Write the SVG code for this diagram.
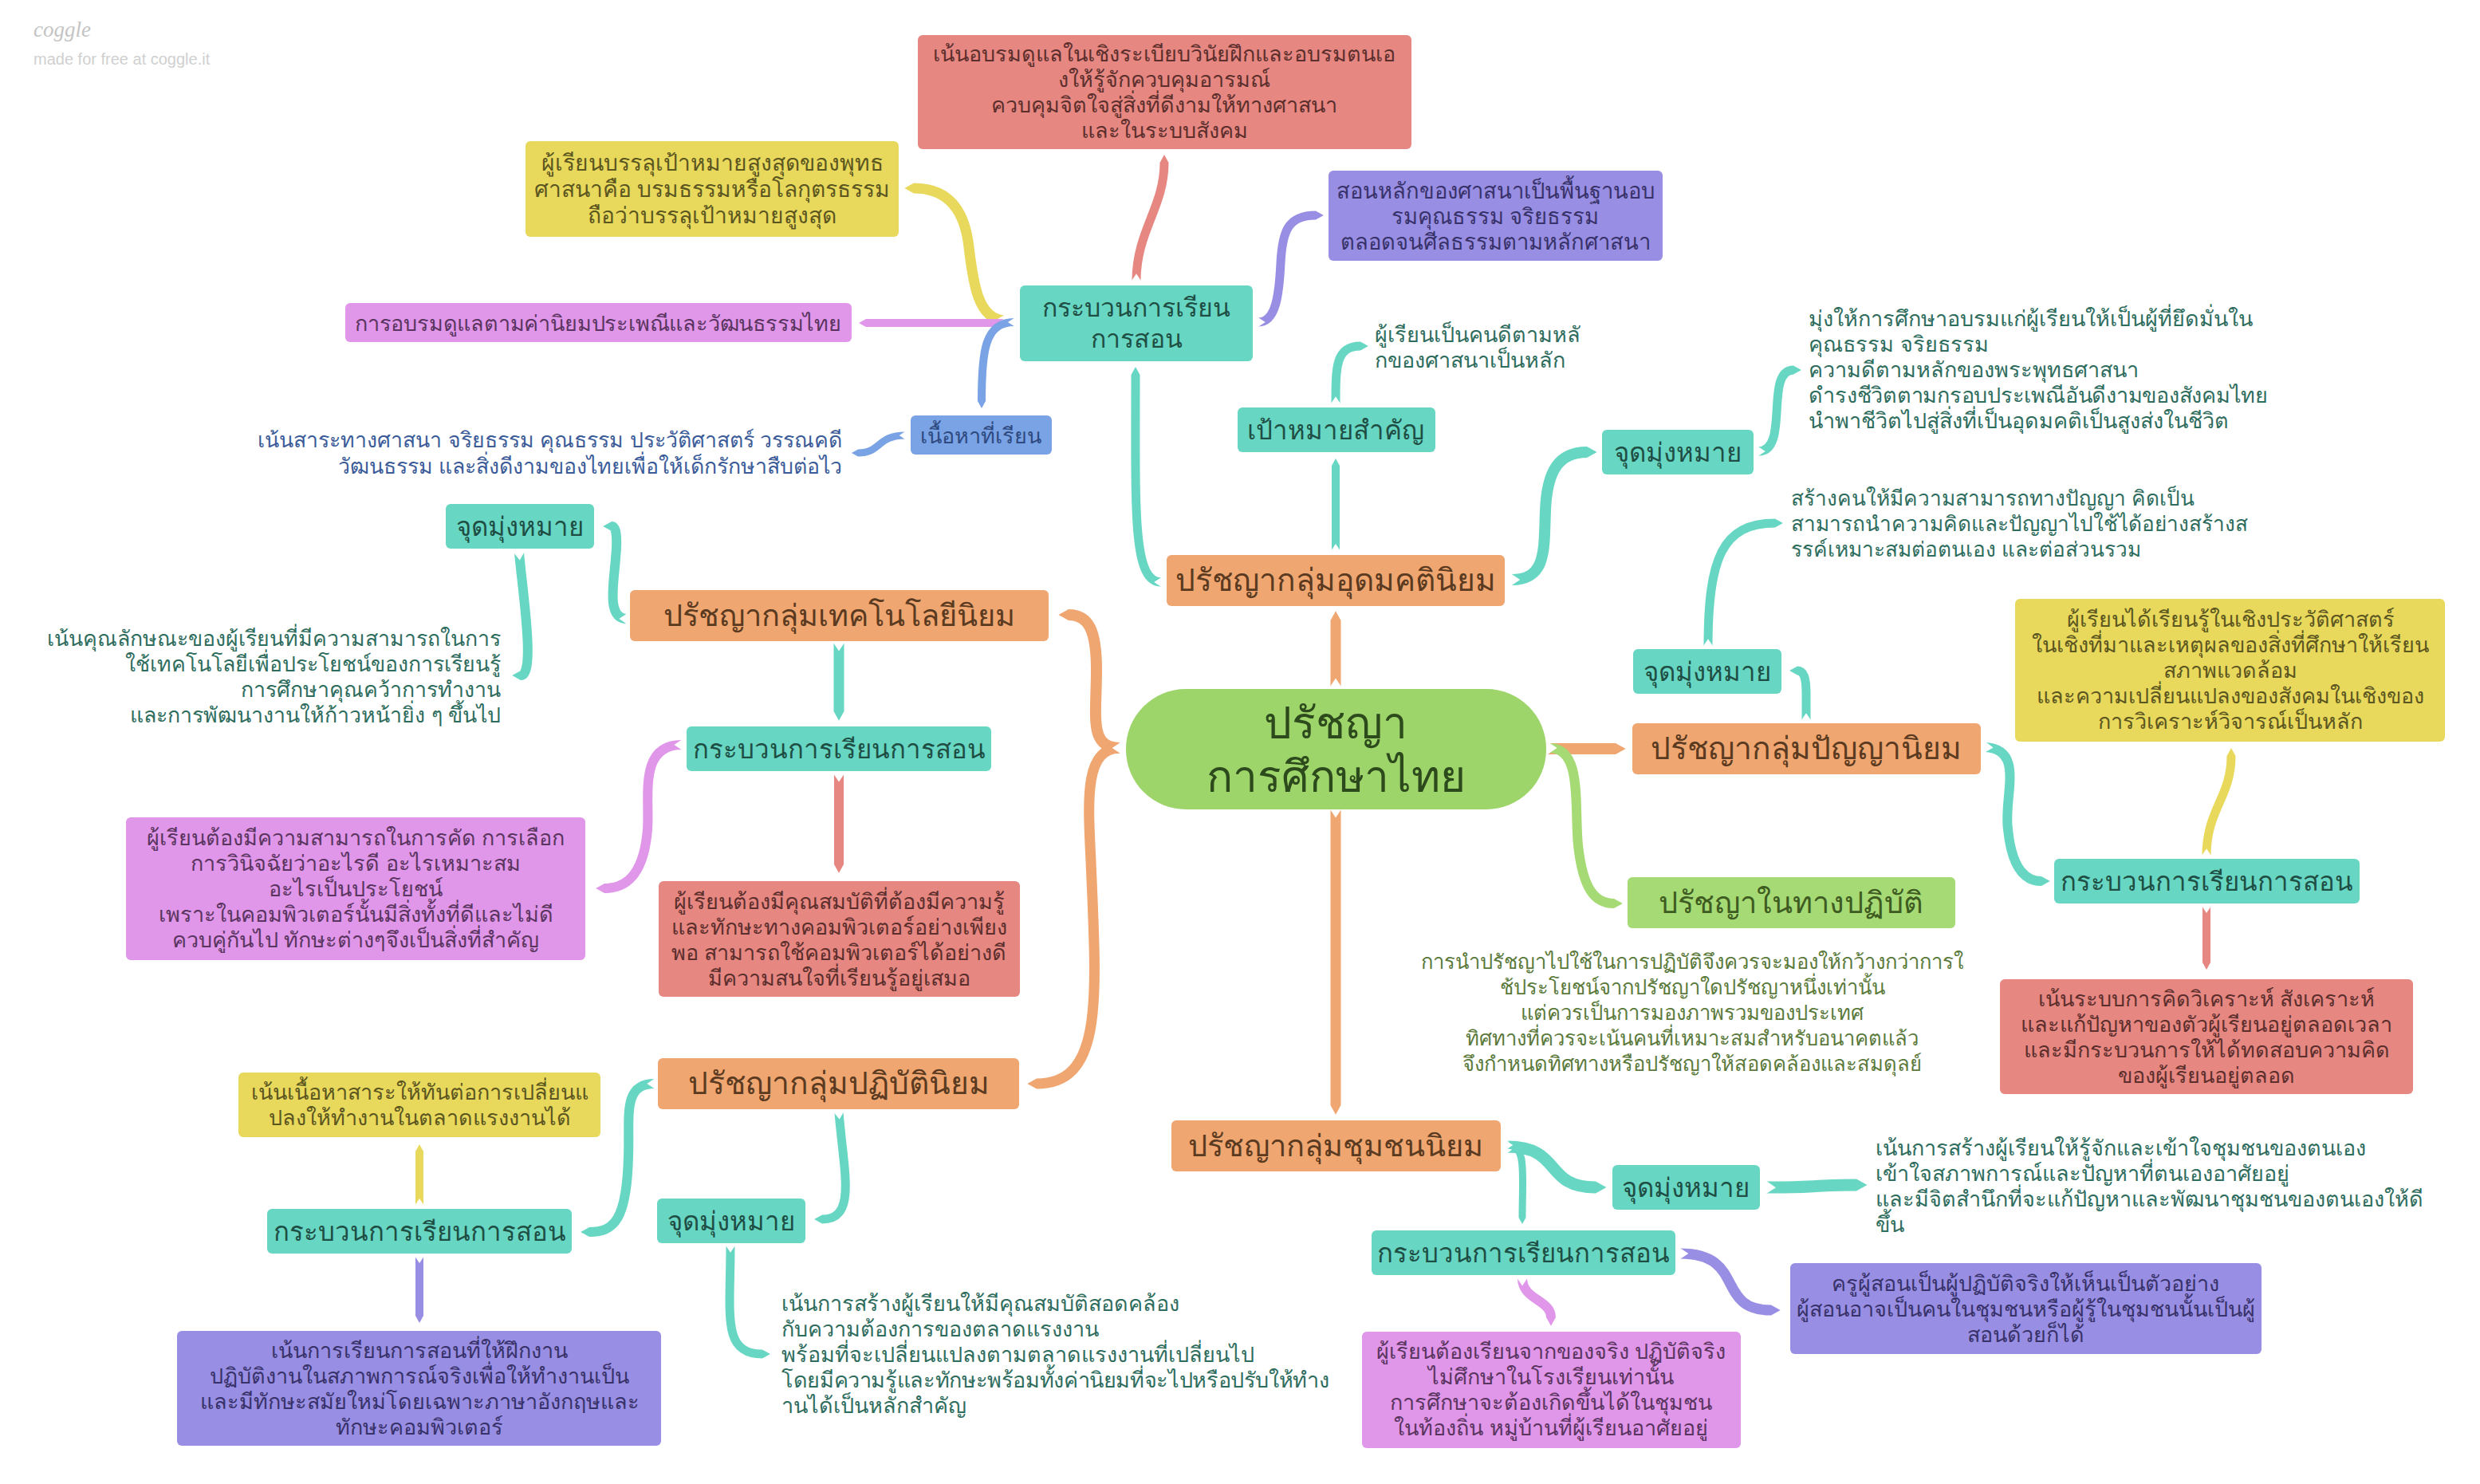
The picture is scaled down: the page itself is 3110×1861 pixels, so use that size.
<svg xmlns="http://www.w3.org/2000/svg" width="3110" height="1861" viewBox="0 0 3110 1861">
<style>
text{font-family:"Liberation Sans","Noto Sans",sans-serif;text-anchor:middle}
.l{font-size:27px}
.m{font-size:33px}
.j{font-size:33px}
.b{font-size:39px}
.r{font-size:55px;fill:#2d4a1c}
.s26 text{font-size:25.6px}.s265 text{font-size:26.2px}.s267 text{font-size:26.7px}.s285 text{font-size:28.2px}.s274 text{font-size:27.4px}.s38 text{font-size:38px}.s33 text{font-size:32px}
.st{text-anchor:start}
.en{text-anchor:end}
.og{fill:#5a3a20}.yl{fill:#5c5620}.pk{fill:#5a3560}.rd{fill:#5c2f2d}.pu{fill:#38326a}.bu{fill:#2e4a80}.gn{fill:#3e5c22}
.tt{fill:#2f6d5e}.tb{fill:#3c5c99}.tg{fill:#5b7a3c}
.nt{fill:#1f4f44}
rect.T{fill:#67d7c4}.O,rect.O{fill:#efa670}.Y{fill:#e8d95d}.P{fill:#e096e9}.R{fill:#e68782}.V{fill:#988ee3}.B{fill:#7aa3e5}.G{fill:#a6da74}
#connectors path{fill:none;stroke-linecap:butt;marker-start:url(#notch)}
.ct{stroke:#67d7c4;marker-end:url(#tT)}.co{stroke:#efa670;marker-end:url(#tO)}.cy{stroke:#e8d95d;marker-end:url(#tY)}.cp{stroke:#e096e9;marker-end:url(#tP)}.cr{stroke:#e68782;marker-end:url(#tR)}.cv{stroke:#988ee3;marker-end:url(#tV)}.cb{stroke:#7aa3e5;marker-end:url(#tB)}.cg{stroke:#a6da74;marker-end:url(#tG)}
</style>
<defs>
<marker id="notch" viewBox="0 0 10 10" markerWidth="1" markerHeight="1" refX="0" refY="5" orient="auto" overflow="visible"><polygon points="-1,-1 8,5 -1,11" fill="#fff"/></marker>
<marker id="tT" viewBox="0 0 10 10" markerWidth="1" markerHeight="1" refX="0" refY="5" orient="auto" overflow="visible"><polygon points="0,0 9,5 0,10" fill="#67d7c4"/></marker>
<marker id="tO" viewBox="0 0 10 10" markerWidth="1" markerHeight="1" refX="0" refY="5" orient="auto" overflow="visible"><polygon points="0,0 9,5 0,10" fill="#efa670"/></marker>
<marker id="tY" viewBox="0 0 10 10" markerWidth="1" markerHeight="1" refX="0" refY="5" orient="auto" overflow="visible"><polygon points="0,0 9,5 0,10" fill="#e8d95d"/></marker>
<marker id="tP" viewBox="0 0 10 10" markerWidth="1" markerHeight="1" refX="0" refY="5" orient="auto" overflow="visible"><polygon points="0,0 9,5 0,10" fill="#e096e9"/></marker>
<marker id="tR" viewBox="0 0 10 10" markerWidth="1" markerHeight="1" refX="0" refY="5" orient="auto" overflow="visible"><polygon points="0,0 9,5 0,10" fill="#e68782"/></marker>
<marker id="tV" viewBox="0 0 10 10" markerWidth="1" markerHeight="1" refX="0" refY="5" orient="auto" overflow="visible"><polygon points="0,0 9,5 0,10" fill="#988ee3"/></marker>
<marker id="tB" viewBox="0 0 10 10" markerWidth="1" markerHeight="1" refX="0" refY="5" orient="auto" overflow="visible"><polygon points="0,0 9,5 0,10" fill="#7aa3e5"/></marker>
<marker id="tG" viewBox="0 0 10 10" markerWidth="1" markerHeight="1" refX="0" refY="5" orient="auto" overflow="visible"><polygon points="0,0 9,5 0,10" fill="#a6da74"/></marker>
</defs>
<rect width="3110" height="1861" fill="#fff"/>
<g id="connectors">
<path class="cr" stroke-width="11" d="M1425 352C1425 290 1460 260 1460 204"/>
<path class="cy" stroke-width="13" d="M1259 402C1225 400 1220 350 1215 310C1210 265 1190 236 1146 236"/>
<path class="cp" stroke-width="10" d="M1259 405L1086 405"/>
<path class="cb" stroke-width="10" d="M1272 404C1235 404 1231 440 1231 503"/>
<path class="cv" stroke-width="11" d="M1578 404C1600 404 1604 370 1606 330C1608 290 1615 270 1650 270"/>
<path class="cb" stroke-width="9" d="M1135 546C1100 546 1105 568 1076 568"/>
<path class="ct" stroke-width="11" d="M1456 730C1420 730 1424 640 1424 470"/>
<path class="ct" stroke-width="10" d="M1675 690L1675 584"/>
<path class="ct" stroke-width="11" d="M1675 506C1675 460 1675 434 1706 434"/>
<path class="ct" stroke-width="14" d="M1895 727C1940 727 1936 690 1938 640C1940 590 1955 567 1990 567"/>
<path class="ct" stroke-width="11" d="M2205 566C2245 566 2212 464 2249 464"/>
<path class="ct" stroke-width="11" d="M2265 903L2265 870C2265 850 2262 841 2254 841"/>
<path class="ct" stroke-width="11" d="M2142 810C2142 700 2160 656 2226 656"/>
<path class="ct" stroke-width="12" d="M2490 937C2540 940 2512 1000 2518 1040C2522 1080 2535 1105 2560 1105"/>
<path class="cy" stroke-width="11" d="M2767 1073C2767 1015 2798 1000 2798 948"/>
<path class="cr" stroke-width="10" d="M2767 1137L2767 1207"/>
<path class="co" stroke-width="13" d="M1675 861L1675 778"/>
<path class="co" stroke-width="14" d="M1940 939L2026 939"/>
<path class="cg" stroke-width="12" d="M1943 938C1985 938 1974 1010 1979 1060C1985 1115 2000 1133 2024 1133"/>
<path class="co" stroke-width="13" d="M1675 1015L1675 1386"/>
<path class="co" stroke-width="14" d="M1405 938C1365 938 1375 900 1375 840C1375 790 1365 771 1340 771"/>
<path class="co" stroke-width="13" d="M1405 938C1360 938 1364 1000 1368 1080C1375 1250 1385 1359 1300 1359"/>
<path class="ct" stroke-width="15" d="M1890 1438C1960 1438 1935 1489 2001 1489"/>
<path class="ct" stroke-width="9" d="M1890 1436C1915 1436 1909 1470 1909 1527"/>
<path class="ct" stroke-width="15" d="M2215 1489C2260 1490 2280 1486 2328 1486"/>
<path class="cv" stroke-width="13" d="M2107 1572C2190 1572 2150 1643 2221 1643"/>
<path class="cp" stroke-width="12" d="M1909 1603C1909 1630 1945 1630 1945 1652"/>
<path class="ct" stroke-width="13" d="M1052 806L1052 892"/>
<path class="cr" stroke-width="12" d="M1052 971L1052 1084"/>
<path class="cp" stroke-width="12" d="M855 934C800 934 815 1000 812 1040C808 1090 790 1114 758 1114"/>
<path class="ct" stroke-width="12" d="M786 776C760 776 770 730 772 700C775 670 772 660 767 660"/>
<path class="ct" stroke-width="12" d="M651 693C655 740 672 847 653 847"/>
<path class="ct" stroke-width="12" d="M821 1359C780 1359 790 1400 788 1450C786 1530 770 1545 739 1545"/>
<path class="ct" stroke-width="11" d="M1052 1395C1058 1470 1075 1529 1031 1529"/>
<path class="cy" stroke-width="10" d="M526 1511L526 1444"/>
<path class="cv" stroke-width="10" d="M526 1576L526 1650"/>
<path class="ct" stroke-width="11" d="M916 1562C916 1650 905 1698 956 1698"/>
</g>
<g id="logo"><text class="st" x="42" y="46" style="font-family:'Liberation Serif',serif;font-style:italic;font-size:27px" fill="#c4c4c4">coggle</text><text class="st" x="42" y="81" style="font-size:20px" fill="#d0d0d0">made for free at coggle.it</text></g>
<g id="root"><rect x="1412" y="864" width="527" height="151" rx="75" fill="#9ed56b"/><text class="r" x="1675" y="926">ปรัชญา</text><text class="r" x="1675" y="993">การศึกษาไทย</text></g>
<g id="n1"><rect class="O" x="1463" y="696" width="424" height="64" rx="6"/><text class="b og" x="1675" y="741">ปรัชญากลุ่มอุดมคตินิยม</text></g>
<g id="n2" class="s33"><rect class="T" x="1279" y="358" width="292" height="95" rx="6"/><text class="b nt" x="1425" y="397">กระบวนการเรียน</text><text class="b nt" x="1425" y="436">การสอน</text></g>
<g id="n3"><rect class="R" x="1151" y="44" width="619" height="143" rx="6"/><text class="l rd" x="1460" y="77">เน้นอบรมดูแลในเชิงระเบียบวินัยฝึกและอบรมตนเอ</text><text class="l rd" x="1460" y="109">งให้รู้จักควบคุมอารมณ์</text><text class="l rd" x="1460" y="141">ควบคุมจิตใจสู่สิ่งที่ดีงามให้ทางศาสนา</text><text class="l rd" x="1460" y="173">และในระบบสังคม</text></g>
<g id="n4" class="s285"><rect class="Y" x="659" y="177" width="468" height="120" rx="6"/><text class="l yl" x="893" y="214">ผู้เรียนบรรลุเป้าหมายสูงสุดของพุทธ</text><text class="l yl" x="893" y="247">ศาสนาคือ บรมธรรมหรือโลกุตรธรรม</text><text class="l yl" x="893" y="280">ถือว่าบรรลุเป้าหมายสูงสุด</text></g>
<g id="n5" class="s274"><rect class="V" x="1666" y="214" width="419" height="113" rx="6"/><text class="l pu" x="1875" y="249">สอนหลักของศาสนาเป็นพื้นฐานอบ</text><text class="l pu" x="1875" y="281">รมคุณธรรม จริยธรรม</text><text class="l pu" x="1875" y="313">ตลอดจนศีลธรรมตามหลักศาสนา</text></g>
<g id="n6"><rect class="P" x="433" y="380" width="635" height="49" rx="6"/><text class="l pk" x="750" y="415" textLength="610">การอบรมดูแลตามค่านิยมประเพณีและวัฒนธรรมไทย</text></g>
<g id="n7"><rect class="B" x="1142" y="521" width="177" height="49" rx="6"/><text class="l bu" x="1230" y="556">เนื้อหาที่เรียน</text></g>
<g id="n8" class="s267"><text class="l tb en" x="1056" y="561">เน้นสาระทางศาสนา จริยธรรม คุณธรรม ประวัติศาสตร์ วรรณคดี</text><text class="l tb en" x="1056" y="594">วัฒนธรรม และสิ่งดีงามของไทยเพื่อให้เด็กรักษาสืบต่อไว</text></g>
<g id="n9"><rect class="T" x="1552" y="511" width="248" height="56" rx="6"/><text class="m nt" x="1675" y="551">เป้าหมายสำคัญ</text></g>
<g id="n10"><text class="l tt st" x="1724" y="429">ผู้เรียนเป็นคนดีตามหลั</text><text class="l tt st" x="1724" y="461">กของศาสนาเป็นหลัก</text></g>
<g id="n11"><rect class="T" x="2009" y="539" width="190" height="56" rx="6"/><text class="j nt" x="2104" y="579">จุดมุ่งหมาย</text></g>
<g id="n12"><text class="l tt st" x="2268" y="409">มุ่งให้การศึกษาอบรมแก่ผู้เรียนให้เป็นผู้ที่ยึดมั่นใน</text><text class="l tt st" x="2268" y="441">คุณธรรม จริยธรรม</text><text class="l tt st" x="2268" y="473">ความดีตามหลักของพระพุทธศาสนา</text><text class="l tt st" x="2268" y="505" textLength="576">ดำรงชีวิตตามกรอบประเพณีอันดีงามของสังคมไทย</text><text class="l tt st" x="2268" y="537">นำพาชีวิตไปสู่สิ่งที่เป็นอุดมคติเป็นสูงส่งในชีวิต</text></g>
<g id="n13"><rect class="O" x="2047" y="907" width="437" height="64" rx="6"/><text class="b og" x="2265" y="952">ปรัชญากลุ่มปัญญานิยม</text></g>
<g id="n14"><rect class="T" x="2048" y="814" width="186" height="56" rx="6"/><text class="j nt" x="2141" y="854">จุดมุ่งหมาย</text></g>
<g id="n15" class="s265"><text class="l tt st" x="2246" y="634">สร้างคนให้มีความสามารถทางปัญญา คิดเป็น</text><text class="l tt st" x="2246" y="666">สามารถนำความคิดและปัญญาไปใช้ได้อย่างสร้างส</text><text class="l tt st" x="2246" y="698">รรค์เหมาะสมต่อตนเอง และต่อส่วนรวม</text></g>
<g id="n16"><rect class="T" x="2576" y="1077" width="383" height="56" rx="6"/><text class="m nt" x="2767" y="1117">กระบวนการเรียนการสอน</text></g>
<g id="n17"><rect class="Y" x="2527" y="751" width="539" height="179" rx="6"/><text class="l yl" x="2797" y="786">ผู้เรียนได้เรียนรู้ในเชิงประวัติศาสตร์</text><text class="l yl" x="2797" y="818">ในเชิงที่มาและเหตุผลของสิ่งที่ศึกษาให้เรียน</text><text class="l yl" x="2797" y="850">สภาพแวดล้อม</text><text class="l yl" x="2797" y="882">และความเปลี่ยนแปลงของสังคมในเชิงของ</text><text class="l yl" x="2797" y="914">การวิเคราะห์วิจารณ์เป็นหลัก</text></g>
<g id="n18"><rect class="R" x="2508" y="1228" width="518" height="144" rx="6"/><text class="l rd" x="2767" y="1262">เน้นระบบการคิดวิเคราะห์ สังเคราะห์</text><text class="l rd" x="2767" y="1294">และแก้ปัญหาของตัวผู้เรียนอยู่ตลอดเวลา</text><text class="l rd" x="2767" y="1326">และมีกระบวนการให้ได้ทดสอบความคิด</text><text class="l rd" x="2767" y="1358">ของผู้เรียนอยู่ตลอด</text></g>
<g id="n19" class="s38"><rect class="G" x="2041" y="1100" width="411" height="64" rx="6"/><text class="b gn" x="2246" y="1145">ปรัชญาในทางปฏิบัติ</text></g>
<g id="n20" class="s26"><text class="l tg" x="2122" y="1215">การนำปรัชญาไปใช้ในการปฏิบัติจึงควรจะมองให้กว้างกว่าการใ</text><text class="l tg" x="2122" y="1247">ช้ประโยชน์จากปรัชญาใดปรัชญาหนึ่งเท่านั้น</text><text class="l tg" x="2122" y="1279">แต่ควรเป็นการมองภาพรวมของประเทศ</text><text class="l tg" x="2122" y="1311">ทิศทางที่ควรจะเน้นคนที่เหมาะสมสำหรับอนาคตแล้ว</text><text class="l tg" x="2122" y="1343">จึงกำหนดทิศทางหรือปรัชญาให้สอดคล้องและสมดุลย์</text></g>
<g id="n21" class="s38"><rect class="O" x="790" y="740" width="525" height="64" rx="6"/><text class="b og" x="1052" y="785">ปรัชญากลุ่มเทคโนโลยีนิยม</text></g>
<g id="n22"><rect class="T" x="559" y="632" width="186" height="56" rx="6"/><text class="j nt" x="652" y="672">จุดมุ่งหมาย</text></g>
<g id="n23" class="s267"><text class="l tt en" x="628" y="810">เน้นคุณลักษณะของผู้เรียนที่มีความสามารถในการ</text><text class="l tt en" x="628" y="842">ใช้เทคโนโลยีเพื่อประโยชน์ของการเรียนรู้</text><text class="l tt en" x="628" y="874">การศึกษาคุณคว้าการทำงาน</text><text class="l tt en" x="628" y="906">และการพัฒนางานให้ก้าวหน้ายิ่ง ๆ ขึ้นไป</text></g>
<g id="n24"><rect class="T" x="861" y="911" width="382" height="56" rx="6"/><text class="m nt" x="1052" y="951">กระบวนการเรียนการสอน</text></g>
<g id="n25"><rect class="P" x="158" y="1025" width="576" height="179" rx="6"/><text class="l pk" x="446" y="1060">ผู้เรียนต้องมีความสามารถในการคัด การเลือก</text><text class="l pk" x="446" y="1092">การวินิจฉัยว่าอะไรดี อะไรเหมาะสม</text><text class="l pk" x="446" y="1124">อะไรเป็นประโยชน์</text><text class="l pk" x="446" y="1156">เพราะในคอมพิวเตอร์นั้นมีสิ่งทั้งที่ดีและไม่ดี</text><text class="l pk" x="446" y="1188">ควบคู่กันไป ทักษะต่างๆจึงเป็นสิ่งที่สำคัญ</text></g>
<g id="n26"><rect class="R" x="826" y="1105" width="453" height="145" rx="6"/><text class="l rd" x="1052" y="1140">ผู้เรียนต้องมีคุณสมบัติที่ต้องมีความรู้</text><text class="l rd" x="1052" y="1172">และทักษะทางคอมพิวเตอร์อย่างเพียง</text><text class="l rd" x="1052" y="1204">พอ สามารถใช้คอมพิวเตอร์ได้อย่างดี</text><text class="l rd" x="1052" y="1236">มีความสนใจที่เรียนรู้อยู่เสมอ</text></g>
<g id="n27"><rect class="O" x="825" y="1327" width="453" height="64" rx="6"/><text class="b og" x="1052" y="1372">ปรัชญากลุ่มปฏิบัตินิยม</text></g>
<g id="n28"><rect class="T" x="335" y="1516" width="382" height="56" rx="6"/><text class="m nt" x="526" y="1556">กระบวนการเรียนการสอน</text></g>
<g id="n29"><rect class="Y" x="299" y="1345" width="454" height="81" rx="6"/><text class="l yl" x="526" y="1379">เน้นเนื้อหาสาระให้ทันต่อการเปลี่ยนแ</text><text class="l yl" x="526" y="1411">ปลงให้ทำงานในตลาดแรงงานได้</text></g>
<g id="n30"><rect class="V" x="222" y="1669" width="607" height="144" rx="6"/><text class="l pu" x="526" y="1703">เน้นการเรียนการสอนที่ให้ฝึกงาน</text><text class="l pu" x="526" y="1735">ปฏิบัติงานในสภาพการณ์จริงเพื่อให้ทำงานเป็น</text><text class="l pu" x="526" y="1767">และมีทักษะสมัยใหม่โดยเฉพาะภาษาอังกฤษและ</text><text class="l pu" x="526" y="1799">ทักษะคอมพิวเตอร์</text></g>
<g id="n31"><rect class="T" x="824" y="1503" width="186" height="56" rx="6"/><text class="j nt" x="917" y="1543">จุดมุ่งหมาย</text></g>
<g id="n32"><text class="l tt st" x="980" y="1644">เน้นการสร้างผู้เรียนให้มีคุณสมบัติสอดคล้อง</text><text class="l tt st" x="980" y="1676">กับความต้องการของตลาดแรงงาน</text><text class="l tt st" x="980" y="1708">พร้อมที่จะเปลี่ยนแปลงตามตลาดแรงงานที่เปลี่ยนไป</text><text class="l tt st" x="980" y="1740" textLength="687">โดยมีความรู้และทักษะพร้อมทั้งค่านิยมที่จะไปหรือปรับให้ทำง</text><text class="l tt st" x="980" y="1772">านได้เป็นหลักสำคัญ</text></g>
<g id="n33" class="s38"><rect class="O" x="1469" y="1405" width="413" height="64" rx="6"/><text class="b og" x="1675" y="1450">ปรัชญากลุ่มชุมชนนิยม</text></g>
<g id="n34"><rect class="T" x="2022" y="1461" width="185" height="56" rx="6"/><text class="j nt" x="2114" y="1501">จุดมุ่งหมาย</text></g>
<g id="n35"><text class="l tt st" x="2352" y="1449">เน้นการสร้างผู้เรียนให้รู้จักและเข้าใจชุมชนของตนเอง</text><text class="l tt st" x="2352" y="1481">เข้าใจสภาพการณ์และปัญหาที่ตนเองอาศัยอยู่</text><text class="l tt st" x="2352" y="1513">และมีจิตสำนึกที่จะแก้ปัญหาและพัฒนาชุมชนของตนเองให้ดี</text><text class="l tt st" x="2352" y="1545">ขึ้น</text></g>
<g id="n36"><rect class="T" x="1720" y="1543" width="381" height="56" rx="6"/><text class="m nt" x="1910" y="1583">กระบวนการเรียนการสอน</text></g>
<g id="n37"><rect class="V" x="2245" y="1584" width="591" height="114" rx="6"/><text class="l pu" x="2540" y="1619">ครูผู้สอนเป็นผู้ปฏิบัติจริงให้เห็นเป็นตัวอย่าง</text><text class="l pu" x="2540" y="1651">ผู้สอนอาจเป็นคนในชุมชนหรือผู้รู้ในชุมชนนั้นเป็นผู้</text><text class="l pu" x="2540" y="1683">สอนด้วยก็ได้</text></g>
<g id="n38"><rect class="P" x="1708" y="1670" width="475" height="146" rx="6"/><text class="l pk" x="1945" y="1704">ผู้เรียนต้องเรียนจากของจริง ปฏิบัติจริง</text><text class="l pk" x="1945" y="1736">ไม่ศึกษาในโรงเรียนเท่านั้น</text><text class="l pk" x="1945" y="1768">การศึกษาจะต้องเกิดขึ้นได้ในชุมชน</text><text class="l pk" x="1945" y="1800">ในท้องถิ่น หมู่บ้านที่ผู้เรียนอาศัยอยู่</text></g>
</svg>
